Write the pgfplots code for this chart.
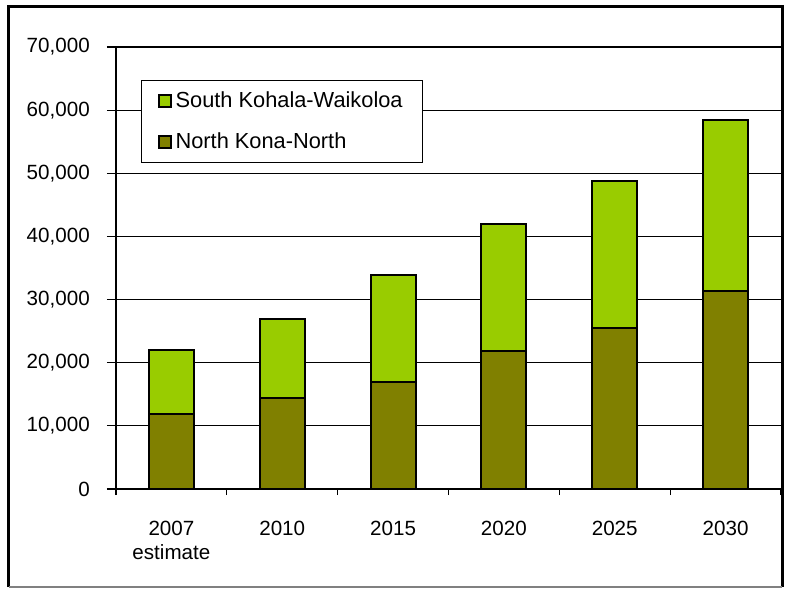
\documentclass[border=0pt]{standalone}
\usepackage{pgfplots}
\pgfplotsset{compat=1.18}
\usepackage{fontspec}
\setmainfont{Liberation Sans}
\definecolor{lgreen}{HTML}{99CC00}
\definecolor{olivebar}{HTML}{808000}
\begin{document}
\fontsize{10.3}{12.4}\selectfont
\begin{tikzpicture}
\begin{axis}[name=ax, at={(0,0)}, anchor=south west,
  scale only axis, width=332.5pt, height=221pt,
  ybar stacked, bar width=22.5pt,
  xmin=-0.5, xmax=5.5, ymin=0, ymax=70000,
  axis x line*=bottom, axis y line*=left,
  axis line style={black, line width=0.6pt},
  xtick={0,...,5},
  xticklabels={{2007\\estimate},2010,2015,2020,2025,2030},
  xticklabel style={align=center, font=\fontsize{10.3}{12}\selectfont, yshift=-8pt},
  major x tick style={draw=none},
  minor xtick={-0.5,0.5,...,5.5},
  minor x tick style={black, line width=0.6pt},
  minor tick length=3pt,
  tick align=outside,
  major tick length=4.5pt,
  ytick={0,10000,...,70000},
  y tick style={black, line width=0.6pt},
  ymajorgrids, major grid style={black, line width=0.6pt},
  scaled y ticks=false,
  /pgf/number format/1000 sep={,},
  /pgf/number format/assume math mode=true,
  yticklabel style={xshift=-5pt},
  reverse legend,
  legend style={at={(0.0376,0.9253)}, anchor=north west, draw=black, line width=0.6pt,
    fill=white, inner xsep=8pt, inner ysep=3.5pt, row sep=7pt,
    font=\fontsize{10.9}{12.4}\selectfont},
  legend cell align=left,
  legend image code/.code={\draw[#1, draw=black, line width=1pt] (0pt,-3pt) rectangle (6pt,3pt);},
]
\addplot[fill=olivebar, draw=black, line width=1pt] coordinates {(0,11900) (1,14400) (2,17000) (3,21900) (4,25500) (5,31400)};
\addplot[fill=lgreen, draw=black, line width=1pt] coordinates {(0,10100) (1,12500) (2,16900) (3,20000) (4,23300) (5,27000)};
\legend{North Kona-North, South Kohala-Waikoloa}
\end{axis}
\draw[line width=1.5pt] ([shift={(-53.5pt,-49pt)}]ax.south west) -- ([shift={(-53.5pt,241pt)}]ax.south west) -- ([shift={(333pt,241pt)}]ax.south west) -- ([shift={(333pt,-49pt)}]ax.south west);
\draw[gray, line width=0.8pt] ([shift={(-53.5pt,-49pt)}]ax.south west) -- ([shift={(333pt,-49pt)}]ax.south west);
\path[use as bounding box] ([shift={(-58pt,-50pt)}]ax.south west) rectangle ([shift={(334.5pt,244.5pt)}]ax.south west);
\end{tikzpicture}
\end{document}
